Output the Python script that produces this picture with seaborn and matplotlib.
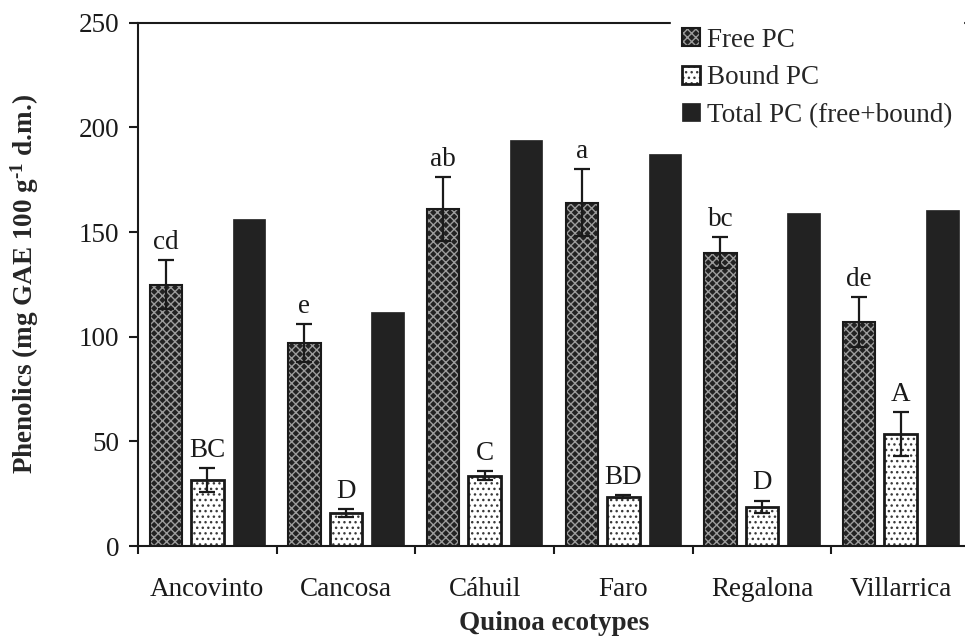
import numpy as np
import pandas as pd
import matplotlib
matplotlib.use("Agg")
import matplotlib.pyplot as plt
import matplotlib.colors as mcolors
from matplotlib.ticker import FixedLocator
import seaborn as sns

# Phenolic content of quinoa ecotypes (mg GAE 100 g-1 d.m.)
ecotypes = ["Ancovinto", "Cancosa", "Cáhuil", "Faro", "Regalona", "Villarrica"]
series = ["Free PC", "Bound PC", "Total PC (free+bound)"]

free_pc = [124.8, 96.9, 160.9, 164.1, 140.2, 106.9]
free_err = [11.6, 9.1, 15.3, 16.0, 7.4, 12.0]
bound_pc = [31.5, 15.6, 33.5, 23.6, 18.8, 53.5]
bound_err = [5.6, 1.9, 2.1, 0.8, 2.9, 10.7]
total_pc = [156.2, 112.0, 194.1, 187.4, 159.0, 160.6]

free_letters = ["cd", "e", "ab", "a", "bc", "de"]
bound_letters = ["BC", "D", "C", "BD", "D", "A"]

yticks = [0, 50, 100, 150, 200, 250]

FS = 19.5

sns.set_theme(style="ticks")
plt.rcParams["font.family"] = ["Liberation Serif", "DejaVu Serif"]
plt.rcParams["mathtext.fontset"] = "custom"
plt.rcParams["mathtext.rm"] = "Liberation Serif:bold"
plt.rcParams["mathtext.bf"] = "Liberation Serif:bold"
plt.rcParams["mathtext.it"] = "Liberation Serif:bold:italic"
plt.rcParams["hatch.linewidth"] = 1.0

df = pd.DataFrame({
    "Ecotype": ecotypes * 3,
    "Series": [s for s in series for _ in ecotypes],
    "Value": free_pc + bound_pc + total_pc,
})

fig = plt.figure(figsize=(9.65, 6.38), dpi=100)
ax = fig.add_axes([0.143, 0.1442, 0.8622, 0.8202])

sns.barplot(data=df, x="Ecotype", y="Value", hue="Series",
            order=ecotypes, hue_order=series, width=0.9, gap=0.22,
            errorbar=None, palette=["#262626", "#ffffff", "#222222"],
            saturation=1, legend=False, ax=ax)

# fill / hatch styling per series
styles = [
    dict(face="#222222", hatch="xxxx", hatch_color="#9c9c9c", edge="#1a1a1a", lw=1.5),
    dict(face="#ffffff", hatch="...", hatch_color="#3a3a3a", edge="#1a1a1a", lw=2.0),
    dict(face="#222222", hatch=None, hatch_color="#222222", edge="#222222", lw=0.5),
]
for cont, st in zip(ax.containers, styles):
    for bar in cont:
        bar.set_facecolor(st["face"])
        bar.set_edgecolor(st["edge"])
        bar.set_linewidth(st["lw"])
        bar.set_hatch(st["hatch"])
        bar._hatch_color = mcolors.to_rgba(st["hatch_color"])

# error bars and significance letters
for cont, means, errs, letters in zip(ax.containers[:2],
                                      [free_pc, bound_pc],
                                      [free_err, bound_err],
                                      [free_letters, bound_letters]):
    xs = [b.get_x() + b.get_width() / 2 for b in cont]
    ax.errorbar(xs, means, yerr=errs, fmt="none", ecolor="#1a1a1a",
                elinewidth=1.6, capsize=5.5, capthick=1.6, zorder=3)
    for x, m, e, lab in zip(xs, means, errs, letters):
        ax.annotate(lab, (x, m + e), xytext=(0, 8), textcoords="offset points",
                    ha="center", va="baseline", fontsize=FS, color="#1a1a1a")

ax.set_ylim(0, 250)
ax.set_yticks(yticks)
ax.set_xlim(-0.5, len(ecotypes) - 0.5)

ax.tick_params(axis="y", direction="out", length=6.5, width=1.5, pad=7,
               labelsize=FS, colors="#1a1a1a")
ax.tick_params(axis="x", which="major", length=0, pad=22, labelsize=FS,
               colors="#1a1a1a")
ax.xaxis.set_minor_locator(FixedLocator(np.arange(-0.5, len(ecotypes), 1.0)))
ax.tick_params(axis="x", which="minor", direction="out", length=6, width=1.5,
               color="#1a1a1a")

for side in ["left", "bottom", "top"]:
    ax.spines[side].set_linewidth(1.5)
    ax.spines[side].set_color("#1a1a1a")
ax.spines["right"].set_visible(False)

ax.set_xlabel("Quinoa ecotypes", fontsize=FS, fontweight="bold", labelpad=7)
ax.set_ylabel(r"Phenolics (mg GAE 100 g$^{\text{-1}}$ d.m.)",
              fontsize=FS, fontweight="bold")
ax.yaxis.set_label_coords(-0.116, 0.5)

leg = ax.legend(ax.containers, series, loc="upper left",
                bbox_to_anchor=(0.6953, 0.9734), bbox_transform=fig.transFigure,
                frameon=True, fancybox=False, framealpha=1, facecolor="white",
                edgecolor="white", fontsize=FS, handlelength=0.66,
                handleheight=0.62, handletextpad=0.26, labelspacing=0.46,
                borderpad=0.4, borderaxespad=0)
leg.set_zorder(5)

fig.savefig("out.png", dpi=100)
